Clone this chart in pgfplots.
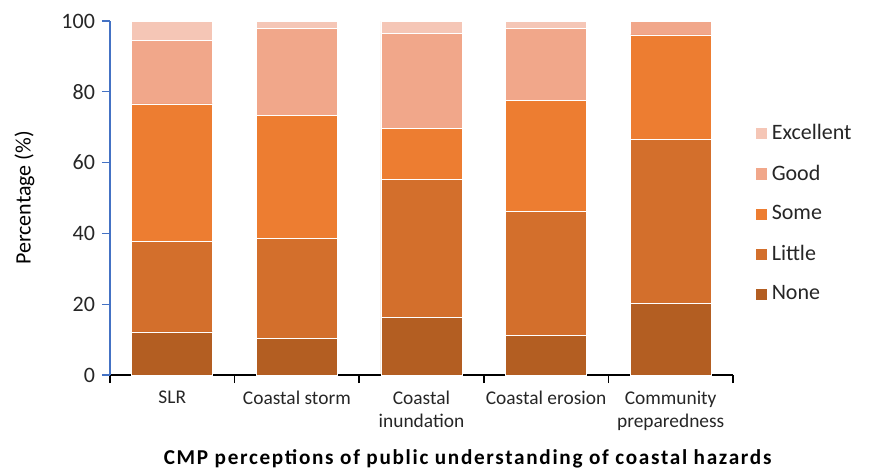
\documentclass[border=0pt]{standalone}
\usepackage{fontspec}
\setmainfont{Carlito}
\newfontfamily\titlefont{Carlito}[LetterSpace=8]
\usepackage{pgfplots}
\pgfplotsset{compat=1.18}
\definecolor{cNone}{HTML}{B35E22}
\definecolor{cLittle}{HTML}{D36F2C}
\definecolor{cSome}{HTML}{ED7D31}
\definecolor{cGood}{HTML}{F1A78A}
\definecolor{cExc}{HTML}{F5C6B6}
\definecolor{axblue}{HTML}{4472C4}
\definecolor{txt}{HTML}{262626}

\pgfplotstableread{
x none little some good excellent
0 12.2 25.6 38.8 17.9 5.5
1 10.3 28.2 34.9 24.6 2.0
2 16.2 39.0 14.4 27.0 3.4
3 11.2 35.0 31.3 20.5 2.0
4 20.3 46.2 29.6 3.9 0.0
}\hazards

\begin{document}
\begin{tikzpicture}
\useasboundingbox (-55pt,-48.5pt) rectangle (379.5pt,187.5pt);
\begin{axis}[
    scale only axis,
    width=311.5pt, height=177pt,
    at={(0,0)}, anchor=south west,
    ybar stacked, bar width=40.5pt,
    xmin=-0.5, xmax=4.5, ymin=0, ymax=100,
    axis x line*=bottom, axis y line*=left,
    x axis line style={black, line width=0.8pt},
    y axis line style={axblue, line width=0.8pt},
    tick align=outside,
    xtick={0,1,2,3,4},
    xticklabels={SLR, Coastal storm, Coastal\\inundation, Coastal erosion, Community\\preparedness},
    major x tick style={draw=none},
    minor xtick={-0.5,0.5,1.5,2.5,3.5,4.5},
    minor x tick style={black, line width=0.8pt},
    minor tick length=4pt,
    xticklabel style={align=center, font=\fontsize{9.7}{11.5}\selectfont, text=txt, yshift=-0.5pt},
    ytick={0,20,40,60,80,100},
    ytick style={axblue, line width=0.6pt},
    major tick length=4pt,
    yticklabel style={font=\fontsize{11}{13}\selectfont, text=txt},
    /pgf/number format/assume math mode=true,
    ylabel={Percentage (\%)},
    ylabel style={font=\fontsize{11}{13}\selectfont, text=black, at={(axis description cs:-0.11,0.5)}},
    xlabel={CMP perceptions of public understanding of coastal hazards},
    xlabel style={font=\fontsize{10.6}{12}\selectfont\titlefont\bfseries, text=black, at={(axis description cs:0.574,-0.19)}, anchor=north},
    legend style={draw=none, fill=none, inner sep=0pt, at={(rel axis cs:1.034,0.456)}, anchor=west,
        font=\fontsize{11}{13}\selectfont, text=txt, row sep=7.2pt, cells={anchor=west}},
    reverse legend,
    legend image code/.code={\fill[#1] (0pt,-3.15pt) rectangle (6.3pt,3.15pt);},
    clip=false,
]
\addplot[fill=cNone, draw=white, line width=0.3pt] table[x=x, y=none] {\hazards};
\addlegendentry{None}
\addplot[fill=cLittle, draw=white, line width=0.3pt] table[x=x, y=little] {\hazards};
\addlegendentry{Little}
\addplot[fill=cSome, draw=white, line width=0.3pt] table[x=x, y=some] {\hazards};
\addlegendentry{Some}
\addplot[fill=cGood, draw=white, line width=0.3pt] table[x=x, y=good] {\hazards};
\addlegendentry{Good}
\addplot[fill=cExc, draw=white, line width=0.3pt] table[x=x, y=excellent] {\hazards};
\addlegendentry{Excellent}
\end{axis}
\end{tikzpicture}
\end{document}
